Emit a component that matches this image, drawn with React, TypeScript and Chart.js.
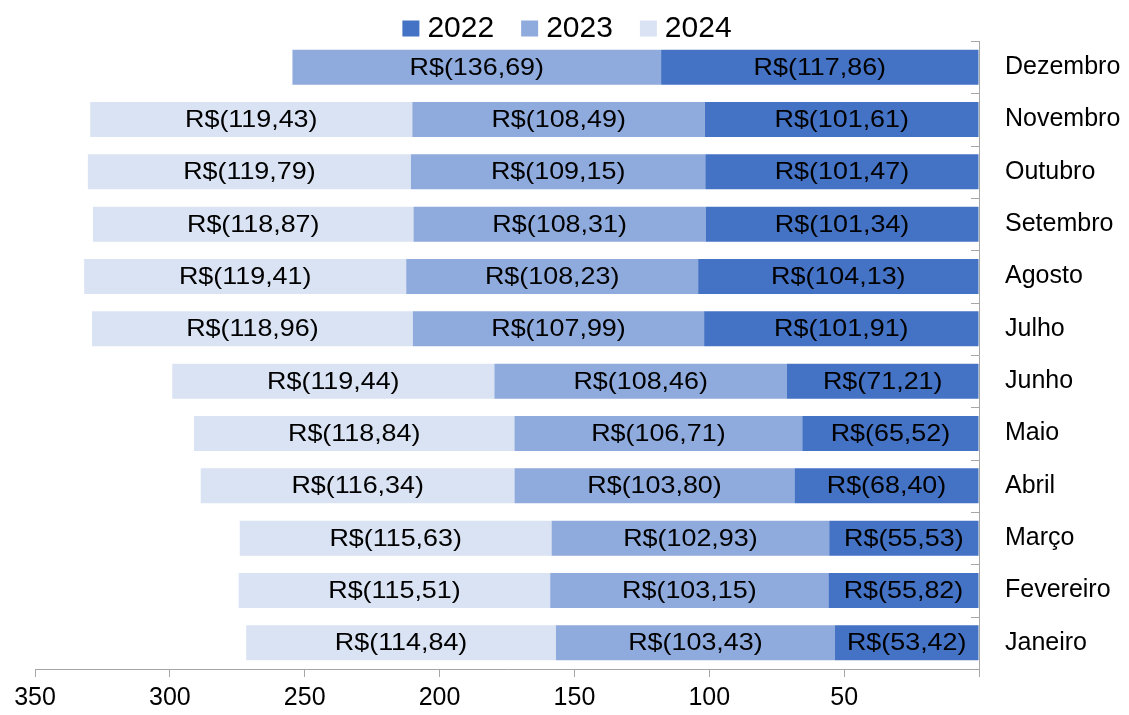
import React, { useEffect, useRef } from "react";
import { Chart, registerables } from "chart.js";

Chart.register(...registerables);

const months = ["Janeiro", "Fevereiro", "Março", "Abril", "Maio", "Junho", "Julho", "Agosto", "Setembro", "Outubro", "Novembro", "Dezembro"];
const values2022 = [53.42, 55.82, 55.53, 68.40, 65.52, 71.21, 101.91, 104.13, 101.34, 101.47, 101.61, 117.86];
const values2023 = [103.43, 103.15, 102.93, 103.80, 106.71, 108.46, 107.99, 108.23, 108.31, 109.15, 108.49, 136.69];
const values2024: (number | null)[] = [114.84, 115.51, 115.63, 116.34, 118.84, 119.44, 118.96, 119.41, 118.87, 119.79, 119.43, null];
const seriesNames = ["2022", "2023", "2024"];
const seriesColors = ["#4472C4", "#8FAADC", "#DAE3F3"];
const xTicks = [0, 50, 100, 150, 200, 250, 300, 350];

const FONT = "'Liberation Sans', Arial, sans-serif";
const AXIS_COLOR = "#A6A6A6";

const fmt = (v: number) => "R$(" + v.toFixed(2).replace(".", ",") + ")";

const labelPlugin = {
  id: "barLabels",
  afterDatasetsDraw(chart: any) {
    const ctx = chart.ctx;
    ctx.save();
    ctx.font = "24px " + FONT;
    ctx.fillStyle = "#000";
    ctx.textAlign = "center";
    ctx.textBaseline = "middle";
    chart.data.datasets.forEach((ds: any, di: number) => {
      const meta = chart.getDatasetMeta(di);
      meta.data.forEach((el: any, i: number) => {
        const v = ds.data[i];
        if (v === null || v === undefined) return;
        const cx = (el.x + el.base) / 2;
        ctx.save();
        ctx.translate(cx, el.y + 1);
        ctx.scale(1.12, 1);
        ctx.fillText(fmt(v), 0, 0);
        ctx.restore();
      });
    });
    // inward tick marks on the right-hand category axis
    const area = chart.chartArea;
    ctx.strokeStyle = AXIS_COLOR;
    ctx.lineWidth = 1;
    const n = months.length;
    const step = (area.bottom - area.top) / n;
    for (let k = 0; k < n; k++) {
      const yy = Math.round(area.top + k * step) + 0.5;
      ctx.beginPath();
      ctx.moveTo(area.right - 8, yy);
      ctx.lineTo(area.right, yy);
      ctx.stroke();
    }
    ctx.restore();
  },
};

const legendPlugin = {
  id: "customLegend",
  afterDraw(chart: any) {
    const ctx = chart.ctx;
    ctx.save();
    ctx.font = "30px " + FONT;
    ctx.textBaseline = "middle";
    ctx.textAlign = "left";
    const box = 17;
    const gapBoxText = 8;
    const gapItems = 27;
    const widths = seriesNames.map((n) => box + gapBoxText + ctx.measureText(n).width);
    const total = widths.reduce((a, b) => a + b, 0) + gapItems * (seriesNames.length - 1);
    let x = 567 - total / 2;
    const cy = 29;
    seriesNames.forEach((name, i) => {
      ctx.fillStyle = seriesColors[i];
      ctx.fillRect(x, cy - box / 2, box, box - 1);
      ctx.fillStyle = "#000";
      ctx.fillText(name, x + box + gapBoxText, cy);
      x += widths[i] + gapItems;
    });
    ctx.restore();
  },
};

export default function App() {
  const ref = useRef<HTMLCanvasElement>(null);
  useEffect(() => {
    if (!ref.current) return;
    const data = [values2022, values2023, values2024];
    const chart = new Chart(ref.current, {
      type: "bar",
      data: {
        labels: months,
        datasets: seriesNames.map((name, i) => ({
          label: name,
          data: data[i] as any,
          backgroundColor: seriesColors[i],
          borderWidth: 0,
          barPercentage: 0.67,
          categoryPercentage: 1,
        })),
      },
      options: {
        indexAxis: "y",
        animation: false,
        responsive: true,
        maintainAspectRatio: false,
        layout: { padding: { left: 35, right: 0, top: 41, bottom: 0 } },
        plugins: {
          tooltip: { enabled: false },
          legend: { display: false },
        },
        scales: {
          x: {
            stacked: true,
            reverse: true,
            min: 0,
            max: 350,
            afterBuildTicks: (axis: any) => {
              axis.ticks = xTicks.map((v) => ({ value: v }));
            },
            afterFit: (axis: any) => {
              axis.height = 46;
            },
            ticks: {
              color: "#000",
              font: { family: FONT, size: 25 },
              padding: 6,
              maxRotation: 0,
              autoSkip: false,
              callback: (v: any) => (Number(v) === 0 ? "" : String(v)),
            },
            grid: {
              display: true,
              drawOnChartArea: false,
              drawTicks: true,
              tickLength: 8,
              color: AXIS_COLOR,
            },
            border: { display: true, color: AXIS_COLOR },
          },
          y: {
            stacked: true,
            reverse: true,
            position: "right",
            afterFit: (axis: any) => {
              axis.width = 150;
            },
            ticks: {
              color: "#000",
              font: { family: FONT, size: 25 },
              padding: 26,
            },
            grid: { display: false, drawTicks: false },
            border: { display: true, color: AXIS_COLOR },
          },
        },
      },
      plugins: [labelPlugin, legendPlugin],
    });
    return () => chart.destroy();
  }, []);
  return (
    <div style={{ position: "absolute", left: 0, top: 0, width: 1129, height: 715, background: "#fff" }}>
      <canvas ref={ref} />
    </div>
  );
}
